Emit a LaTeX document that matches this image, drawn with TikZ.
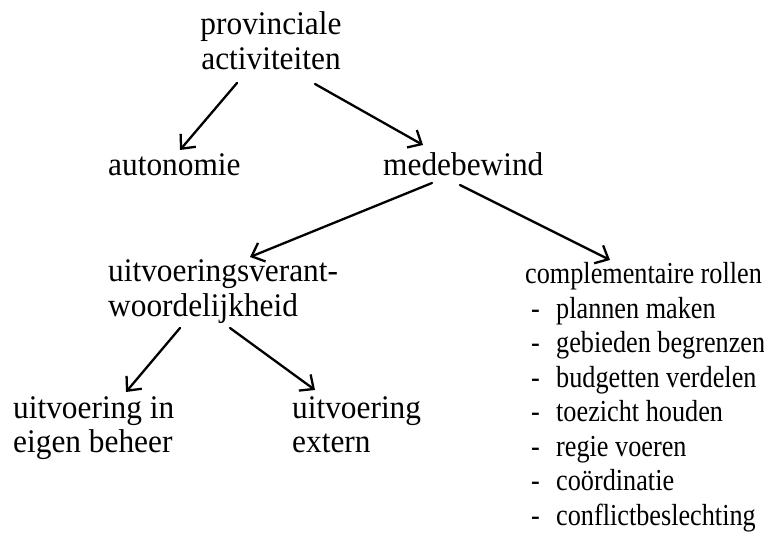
\documentclass[tikz,border=0pt]{standalone}
\usepackage{fontspec}
\setmainfont{Liberation Serif}
\newfontfamily\lftfont[FakeStretch=0.95]{Liberation Serif}
\newfontfamily\rgtfont[FakeStretch=0.86]{Liberation Serif}
\usetikzlibrary{arrows.meta}

% dash in front of each role
\newcommand{\rol}[1]{\makebox[31pt][l]{\hspace{6pt}-}#1}

\begin{document}
\begin{tikzpicture}[x=1pt,y=-1pt,
  lbl/.style={inner sep=0pt, anchor=base west, align=left, font=\lftfont\fontsize{33}{35}\selectfont},
  arr/.style={-{Straight Barb[length=11pt,width=20pt]}, line width=2.3pt, line cap=round}]
\useasboundingbox (0,0) rectangle (764,540);
% top level (base = last line)
\node[lbl, anchor=base, align=center] (prov) at (271,70) {provinciale\\activiteiten};
\node[lbl] (auto) at (108,176) {autonomie};
\node[lbl] (mede) at (383,176) {medebewind};
% second level
\node[lbl] (uitv) at (108,317) {uitvoeringsverant-\\woordelijkheid};
\node[lbl, font=\rgtfont\fontsize{30.5}{34.5}\selectfont] (compl) at (525,525) {complementaire rollen\\
  \rol{plannen maken}\\ \rol{gebieden begrenzen}\\ \rol{budgetten verdelen}\\
  \rol{toezicht houden}\\ \rol{regie voeren}\\ \rol{co\"ordinatie}\\ \rol{conflictbeslechting}};
% third level
\node[lbl] (eigen) at (13,453) {uitvoering in\\eigen beheer};
\node[lbl] (extern) at (292,453) {uitvoering\\extern};
% arrows
\draw[arr] ([shift={(-34,13)}]prov.base) -- ([shift={(72,-26)}]auto.base west);
\draw[arr] ([shift={(44,14)}]prov.base) -- ([shift={(40,-31)}]mede.base west);
\draw[arr] ([shift={(49,7)}]mede.base west) -- ([shift={(142,-60)}]uitv.base west);
\draw[arr] ([shift={(77,9)}]mede.base west) -- ([shift={(85,-265)}]compl.base west);
\draw[arr] ([shift={(72,11)}]uitv.base west) -- ([shift={(113,-61)}]eigen.base west);
\draw[arr] ([shift={(122,11)}]uitv.base west) -- ([shift={(23,-63)}]extern.base west);
\end{tikzpicture}
\end{document}
